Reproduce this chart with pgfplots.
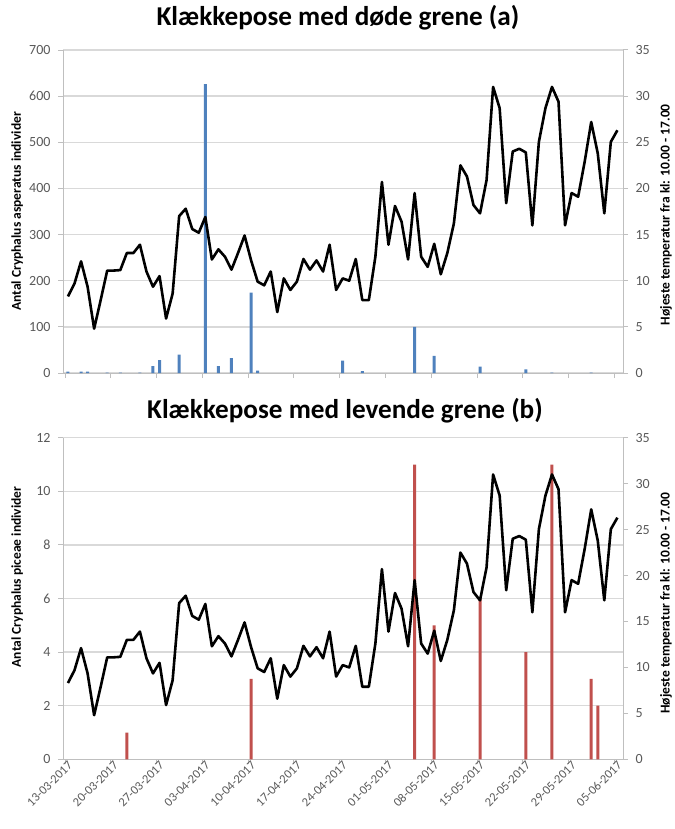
\documentclass[border=0pt]{standalone}
\usepackage{pgfplots}
\pgfplotsset{compat=1.18}
\usepackage{pgfplotstable}
\usepackage{fontspec}
\setmainfont{Carlito}
\definecolor{barblue}{RGB}{79,129,189}
\definecolor{barred}{RGB}{192,80,77}
\definecolor{gridgray}{RGB}{217,217,217}
\definecolor{axisgray}{RGB}{191,191,191}
\definecolor{ticktext}{RGB}{89,89,89}

\pgfplotstableread{
d T
0 8.3
1 9.7
2 12.1
3 9.35
4 4.8
5 7.9
6 11.1
7 11.1
8 11.15
9 13.0
10 13.0
11 13.9
12 11.0
13 9.35
14 10.5
15 5.9
16 8.6
17 17.0
18 17.8
19 15.6
20 15.2
21 16.9
22 12.3
23 13.4
24 12.6
25 11.2
26 13.0
27 14.9
28 12.2
29 9.9
30 9.5
31 11.0
32 6.6
33 10.25
34 9.0
35 9.9
36 12.35
37 11.2
38 12.2
39 11.0
40 13.9
41 9.0
42 10.25
43 10.0
44 12.35
45 7.9
46 7.9
47 12.6
48 20.7
49 13.9
50 18.1
51 16.4
52 12.3
53 19.5
54 12.6
55 11.5
56 14.0
57 10.7
58 13.0
59 16.2
60 22.5
61 21.3
62 18.2
63 17.3
64 20.9
65 31.0
66 28.7
67 18.4
68 24.0
69 24.3
70 23.9
71 16.0
72 25.05
73 28.7
74 31.0
75 29.4
76 16.0
77 19.5
78 19.1
79 22.9
80 27.2
81 23.8
82 17.3
83 25.05
84 26.3
}\temptable

\pgfplotstableread{
d n
0 3
2 3
3 3
6 1
8 1
11 1
13 15
14 28
17 40
21 626
23 15
25 32
28 174
29 5
42 27
45 4
53 100
56 37
63 14
70 8
74 1
80 1
}\barsa

\pgfplotstableread{
d n
9 1
28 3
53 11
56 5
63 6
70 4
74 11
80 3
81 2
}\barsb

\pgfplotsset{
  common/.style={
    scale only axis, width=560pt,
    xmin=-0.76, xmax=84.86,
    xtick={-0.45,6.55,13.55,20.55,27.55,34.55,41.55,48.55,55.55,62.55,69.55,76.55,83.55},
    tick label style={font=\fontsize{14}{14}\selectfont, text=ticktext},
    /pgf/number format/assume math mode=true,
    axis line style={axisgray, line width=1pt},
    major tick length=5pt,
    tick style={axisgray, line width=1pt},
    tick align=outside,
    label style={font=\bfseries\fontsize{13.5}{14}\selectfont, text=black},
    title style={font=\bfseries\fontsize{27.2}{28}\selectfont},
  },
  leftax/.style={
    common,
    axis y line*=left, axis x line*=bottom,
    ymin=0, ymajorgrids, grid style={gridgray, line width=1.3pt},
    ylabel style={at={(axis description cs:-0.082,0.5)}, anchor=center},
    yticklabel style={xshift=-4pt},
  },
  rightax/.style={
    common,
    axis y line*=right, axis x line=none,
    ymin=0, ymax=35, ytick={0,5,...,35},
    ylabel style={at={(axis description cs:1.077,0.49)}, anchor=center, rotate=0},
    yticklabel style={xshift=4pt},
  },
}

\begin{document}
\begin{tikzpicture}
\useasboundingbox (0,0) rectangle (674pt,-829pt);
% ---------- panel (a) ----------
\begin{axis}[leftax, at={(63pt,-373pt)}, anchor=south west, height=323pt,
  ymax=700, ytick={0,100,...,700}, xticklabels={},
  ylabel={Antal Cryphalus asperatus individer},
  title={Klækkepose med døde grene (a)},
  title style={at={(axis description cs:0.5,1)}, anchor=base, yshift=19pt, xshift=-5pt}]
\addplot[ybar, bar width=3pt, fill=barblue, draw=none] table[x=d, y=n] {\barsa};
\end{axis}
\begin{axis}[rightax, at={(63pt,-373pt)}, anchor=south west, height=323pt,
  ylabel={Højeste temperatur fra kl: 10.00 - 17.00}]
\addplot[black, line width=2.6pt, line join=round, mark=none] table[x=d, y=T] {\temptable};
\end{axis}
% ---------- panel (b) ----------
\begin{axis}[leftax, at={(63pt,-759.3pt)}, anchor=south west, height=321.6pt,
  ymax=12, ytick={0,2,...,12},
  ylabel={Antal Cryphalus piceae individer},
  ylabel style={at={(axis description cs:-0.082,0.567)}},
  xticklabels={13-03-2017,20-03-2017,27-03-2017,03-04-2017,10-04-2017,17-04-2017,24-04-2017,01-05-2017,08-05-2017,15-05-2017,22-05-2017,29-05-2017,05-06-2017},
  xticklabel style={rotate=45, anchor=east, xshift=8pt, yshift=-3pt, font=\fontsize{12.5}{13}\selectfont},
  title={Klækkepose med levende grene (b)},
  title style={at={(axis description cs:0.5,1)}, anchor=base, yshift=13pt, xshift=2pt}]
\addplot[ybar, bar width=3pt, fill=barred, draw=none] table[x=d, y=n] {\barsb};
\end{axis}
\begin{axis}[rightax, at={(63pt,-759.3pt)}, anchor=south west, height=321.6pt,
  ylabel={Højeste temperatur fra kl: 10.00 - 17.00},
  ylabel style={at={(axis description cs:1.077,0.486)}}]
\addplot[black, line width=2.6pt, line join=round, mark=none] table[x=d, y=T] {\temptable};
\end{axis}
\end{tikzpicture}
\end{document}
